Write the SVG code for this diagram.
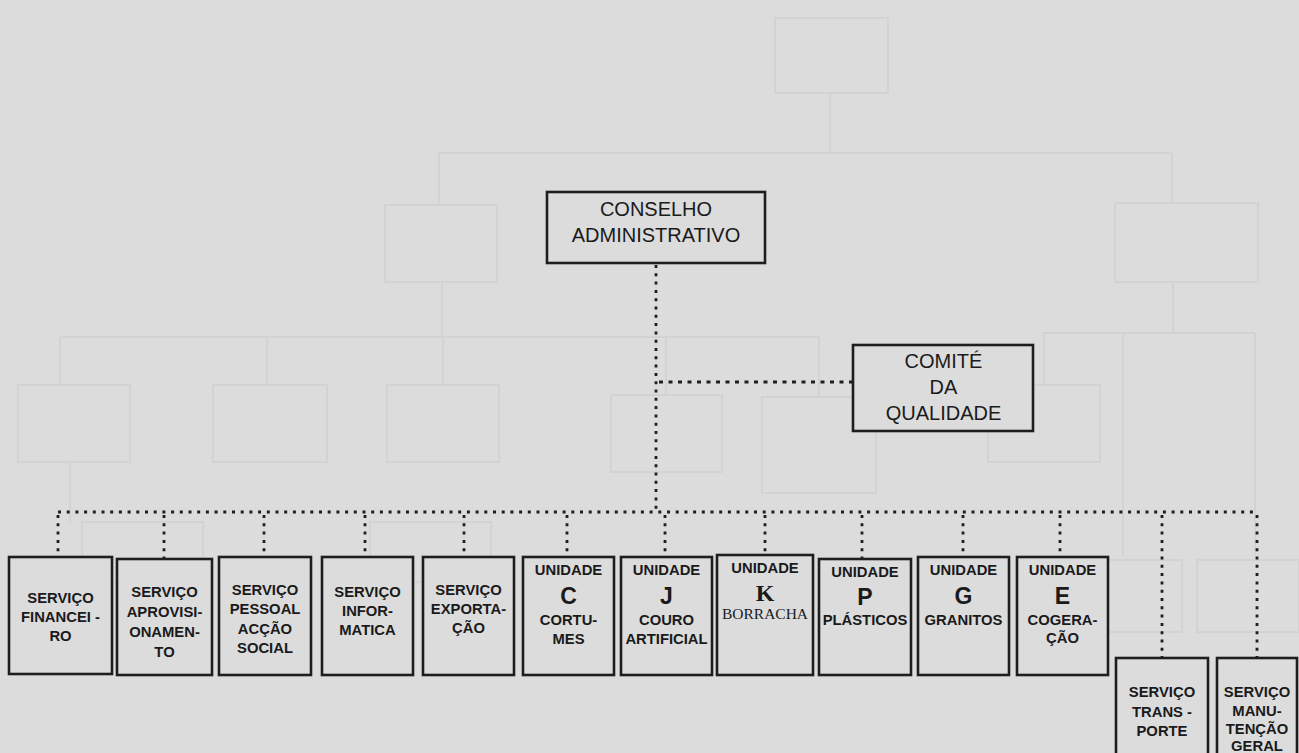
<svg xmlns="http://www.w3.org/2000/svg" width="1299" height="753" viewBox="0 0 1299 753">
<style>
.bg{fill:#dcdcdc}
.ghost{fill:none;stroke:#d3d3d3;stroke-width:2}
.box{fill:#dcdcdc;stroke:#1e1e1e;stroke-width:2.6}
.t{font-family:"Liberation Sans",Arial,sans-serif;fill:#1a1a1a;text-anchor:middle}
.big{font-size:20px}
.sm{font-size:14.8px;font-weight:bold}
.let{font-size:23px;font-weight:bold}
.serif{font-family:"Liberation Serif","Times New Roman",serif;fill:#1a1a1a;text-anchor:middle}
.dotv{fill:none;stroke:#1e1e1e;stroke-width:2.8;stroke-dasharray:3 5.3}
.doth{fill:none;stroke:#1e1e1e;stroke-width:2.8;stroke-dasharray:3 5.7}
.dashc{fill:none;stroke:#1e1e1e;stroke-width:2.8;stroke-dasharray:4 5.5}
</style>
<rect class="bg" x="0" y="0" width="1299" height="753"/>
<g id="show-through">
<rect class="ghost" x="775" y="18" width="113" height="75"/>
<path class="ghost" d="M830 93V153M439 153H1172M439 153V205M1172 153V203"/>
<rect class="ghost" x="385" y="205" width="112" height="77"/>
<rect class="ghost" x="1115" y="203" width="143" height="79"/>
<path class="ghost" d="M442 282V337M60 337H820M60 337V385M267 337V385M443 337V385M666 337V395M819 337V397"/>
<path class="ghost" d="M1173 282V333M1042 333H1255M1044 333V385M1123 333V555M1255 333V555"/>
<rect class="ghost" x="18" y="385" width="112" height="77"/>
<rect class="ghost" x="213" y="385" width="114" height="77"/>
<rect class="ghost" x="387" y="385" width="112" height="77"/>
<rect class="ghost" x="611" y="395" width="111" height="77"/>
<rect class="ghost" x="762" y="397" width="114" height="96"/>
<rect class="ghost" x="988" y="385" width="112" height="77"/>
<path class="ghost" d="M70 462V522"/>
<rect class="ghost" x="82" y="522" width="121" height="60"/>
<rect class="ghost" x="370" y="522" width="121" height="60"/>
<rect class="ghost" x="1073" y="560" width="109" height="72"/>
<rect class="ghost" x="1197" y="560" width="102" height="72"/>
</g>
<g id="connectors">
<path class="dotv" d="M656 265V512"/>
<path class="dashc" d="M659 382H852"/>
<path class="doth" d="M58 512H1257"/>
<path class="dotv" d="M58 515V556M164 515V558M264 515V556M365 515V556M464 515V556M567 515V556M665 515V556M765 515V554M862 515V558M963 515V556M1060 515V556"/>
<path class="dotv" d="M1162 515V657M1257 515V657"/>
</g>
<g id="conselho">
<rect class="box" x="547" y="192" width="218" height="71"/>
<text class="t big" x="656" y="216">CONSELHO</text>
<text class="t big" x="656" y="242">ADMINISTRATIVO</text>
</g>
<g id="comite">
<rect class="box" x="853" y="345" width="180" height="86"/>
<text class="t big" x="943.5" y="368">COMITÉ</text>
<text class="t big" x="943.5" y="394">DA</text>
<text class="t big" x="943.5" y="420">QUALIDADE</text>
</g>
<g id="financeiro">
<rect class="box" x="9" y="557" width="103" height="117"/>
<text class="t sm" x="60.5" y="603">SERVIÇO</text>
<text class="t sm" x="60.5" y="622">FINANCEI -</text>
<text class="t sm" x="60.5" y="641">RO</text>
</g>
<g id="aprovisionamento">
<rect class="box" x="117" y="559" width="95" height="116"/>
<text class="t sm" x="164.5" y="597">SERVIÇO</text>
<text class="t sm" x="164.5" y="617">APROVISI-</text>
<text class="t sm" x="164.5" y="637">ONAMEN-</text>
<text class="t sm" x="164.5" y="657">TO</text>
</g>
<g id="pessoal">
<rect class="box" x="219" y="557" width="92" height="118"/>
<text class="t sm" x="265" y="595">SERVIÇO</text>
<text class="t sm" x="265" y="614">PESSOAL</text>
<text class="t sm" x="265" y="634">ACÇÃO</text>
<text class="t sm" x="265" y="653">SOCIAL</text>
</g>
<g id="informatica">
<rect class="box" x="322" y="557" width="91" height="118"/>
<text class="t sm" x="367.5" y="597">SERVIÇO</text>
<text class="t sm" x="367.5" y="616">INFOR-</text>
<text class="t sm" x="367.5" y="635">MATICA</text>
</g>
<g id="exportacao">
<rect class="box" x="423" y="557" width="91" height="118"/>
<text class="t sm" x="468.5" y="595">SERVIÇO</text>
<text class="t sm" x="468.5" y="614">EXPORTA-</text>
<text class="t sm" x="468.5" y="633">ÇÃO</text>
</g>
<g id="unidade-c">
<rect class="box" x="523" y="557" width="91" height="118"/>
<text class="t sm" x="568.5" y="575">UNIDADE</text>
<text class="t let" x="568.5" y="604">C</text>
<text class="t sm" x="568.5" y="625">CORTU-</text>
<text class="t sm" x="568.5" y="644">MES</text>
</g>
<g id="unidade-j">
<rect class="box" x="621" y="557" width="91" height="118"/>
<text class="t sm" x="666.5" y="575">UNIDADE</text>
<text class="t let" x="666.5" y="604">J</text>
<text class="t sm" x="666.5" y="625">COURO</text>
<text class="t sm" x="666.5" y="644">ARTIFICIAL</text>
</g>
<g id="unidade-k">
<rect class="box" x="717" y="555" width="96" height="120"/>
<text class="t sm" x="765" y="573">UNIDADE</text>
<text class="serif" x="765" y="601" font-size="24" font-weight="bold">K</text>
<text class="serif" x="765" y="619" font-size="15.5">BORRACHA</text>
</g>
<g id="unidade-p">
<rect class="box" x="819" y="559" width="92" height="116"/>
<text class="t sm" x="865" y="577">UNIDADE</text>
<text class="t let" x="865" y="605">P</text>
<text class="t sm" x="865" y="625">PLÁSTICOS</text>
</g>
<g id="unidade-g">
<rect class="box" x="918" y="557" width="91" height="118"/>
<text class="t sm" x="963.5" y="575">UNIDADE</text>
<text class="t let" x="963.5" y="604">G</text>
<text class="t sm" x="963.5" y="625">GRANITOS</text>
</g>
<g id="unidade-e">
<rect class="box" x="1017" y="557" width="91" height="118"/>
<text class="t sm" x="1062.5" y="575">UNIDADE</text>
<text class="t let" x="1062.5" y="604">E</text>
<text class="t sm" x="1062.5" y="625">COGERA-</text>
<text class="t sm" x="1062.5" y="643">ÇÃO</text>
</g>
<g id="transporte">
<rect class="box" x="1116" y="658" width="92" height="110"/>
<text class="t sm" x="1162" y="697">SERVIÇO</text>
<text class="t sm" x="1162" y="717">TRANS -</text>
<text class="t sm" x="1162" y="736">PORTE</text>
</g>
<g id="manutencao">
<rect class="box" x="1217" y="658" width="80" height="110"/>
<text class="t sm" x="1257" y="697">SERVIÇO</text>
<text class="t sm" x="1257" y="716">MANU-</text>
<text class="t sm" x="1257" y="734">TENÇÃO</text>
<text class="t sm" x="1257" y="751">GERAL</text>
</g>
</svg>
